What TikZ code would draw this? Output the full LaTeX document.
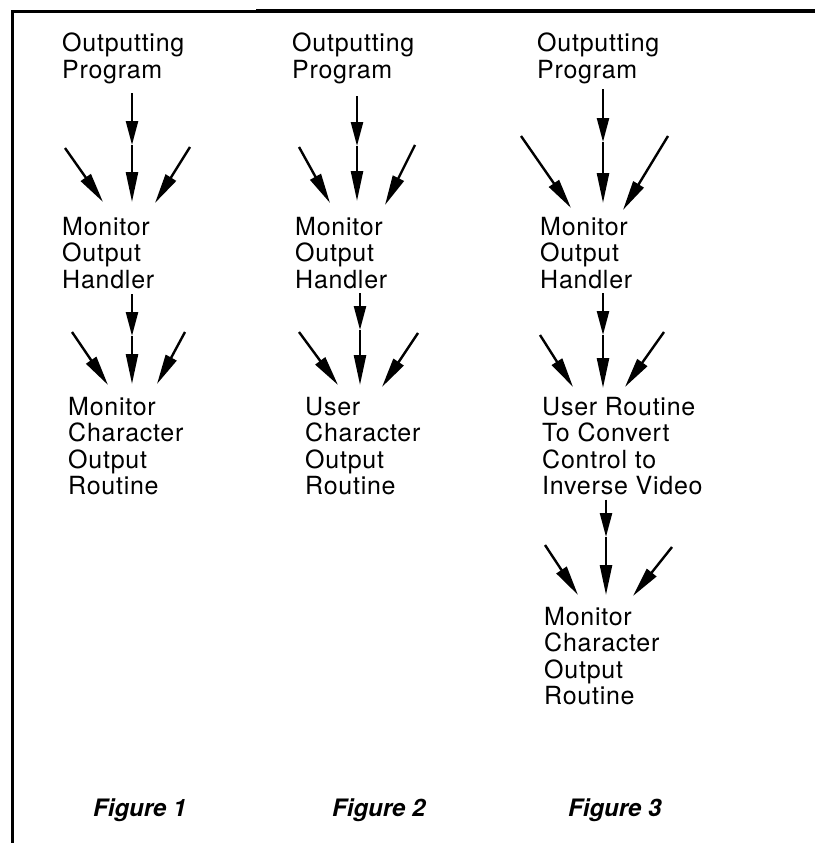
\documentclass[tikz,border=0pt]{standalone}
\usepackage{fontspec}
\setmainfont{TeX Gyre Heros}
\usetikzlibrary{arrows.meta,calc}

\begin{document}
\begin{tikzpicture}[x=1pt, y=-1pt,
	lbl/.style={anchor=north west, inner sep=0pt, align=left, font=\fontsize{25}{26.5}\selectfont\addfontfeature{LetterSpace=3}},
	figcap/.style={anchor=base west, inner sep=0pt, font=\fontsize{24}{26}\selectfont\bfseries\itshape},
	arr/.style={line width=2.4pt, -{Triangle[length=30pt, width=12pt]}},
	midarr/.style={line width=2.4pt, -{Triangle[length=24pt, width=12pt]}}]
	\useasboundingbox (0, 0) rectangle (815, 843);
	% frame
	\draw[line width=3pt] (12, 843) -- (12, 12) -- (256, 12);
	\draw[line width=4pt] (256, 11) -- (815, 11);

	% Figure 1
	\node[lbl] (prog1) at (62, 33) {Outputting\\Program};
	\node[lbl] (mon1) at (62, 217) {Monitor\\Output\\Handler};
	\node[lbl] (rout1) at (68, 397) {Monitor\\Character\\Output\\Routine};
	\coordinate (m1a) at (132, 145);
	\coordinate (m1b) at (132, 336);
	\draw[midarr, shorten <=9pt] (prog1.south -| m1a) -- (m1a);
	\draw[arr, shorten >=15pt] (m1a) -- (mon1.north -| m1a);
	\draw[midarr, shorten <=5pt] (mon1.south -| m1b) -- (m1b);
	\draw[arr, shorten >=13pt] (m1b) -- (rout1.north -| m1b);
	\coordinate (l1a) at (65, 148);  \coordinate (tl1a) at (103, 202);
	\coordinate (r1a) at (190, 147); \coordinate (tr1a) at (155, 203);
	\coordinate (l1b) at (72, 332);  \coordinate (tl1b) at (108, 385);
	\coordinate (r1b) at (185, 332); \coordinate (tr1b) at (157, 384);
	\draw[arr] (l1a) -- (tl1a);
	\draw[arr] (r1a) -- (tr1a);
	\draw[arr] (l1b) -- (tl1b);
	\draw[arr] (r1b) -- (tr1b);

	% Figure 2
	\node[lbl] (prog2) at (292, 33) {Outputting\\Program};
	\node[lbl] (mon2) at (295, 217) {Monitor\\Output\\Handler};
	\node[lbl] (rout2) at (305, 397) {User\\Character\\Output\\Routine};
	\coordinate (m2a) at (357, 146);
	\coordinate (m2b) at (360, 330);
	\draw[midarr, shorten <=12pt] (prog2.south -| m2a) -- (m2a);
	\draw[arr, shorten >=16pt] (m2a) -- (mon2.north -| m2a);
	\draw[midarr, shorten <=4pt] (mon2.south -| m2b) -- (m2b);
	\draw[arr, shorten >=12pt] (m2b) -- (rout2.north -| m2b);
	\coordinate (l2a) at (299, 147); \coordinate (tl2a) at (330, 203);
	\coordinate (r2a) at (415, 145); \coordinate (tr2a) at (385, 205);
	\coordinate (l2b) at (299, 332); \coordinate (tl2b) at (338, 385);
	\coordinate (r2b) at (418, 333); \coordinate (tr2b) at (382, 387);
	\draw[arr] (l2a) -- (tl2a);
	\draw[arr] (r2a) -- (tr2a);
	\draw[arr] (l2b) -- (tl2b);
	\draw[arr] (r2b) -- (tr2b);

	% Figure 3
	\node[lbl] (prog3) at (537, 33) {Outputting\\Program};
	\node[lbl] (mon3) at (540, 217) {Monitor\\Output\\Handler};
	\node[lbl] (user3) at (542, 397) {User Routine\\To Convert\\Control to\\Inverse Video};
	\node[lbl] (rout3) at (544, 607) {Monitor\\Character\\Output\\Routine};
	\coordinate (m3a) at (603, 142);
	\coordinate (m3b) at (603, 335);
	\coordinate (m3c) at (606, 537);
	\draw[midarr, shorten <=5pt] (prog3.south -| m3a) -- (m3a);
	\draw[arr, shorten >=14pt] (m3a) -- (mon3.north -| m3a);
	\draw[midarr, shorten <=4pt] (mon3.south -| m3b) -- (m3b);
	\draw[arr, shorten >=9pt] (m3b) -- (user3.north -| m3b);
	\draw[midarr, shorten <=4pt] (user3.south -| m3c) -- (m3c);
	\draw[arr, shorten >=12pt] (m3c) -- (rout3.north -| m3c);
	\coordinate (l3a) at (521, 136); \coordinate (tl3a) at (571, 208);
	\coordinate (r3a) at (668, 136); \coordinate (tr3a) at (623, 210);
	\coordinate (l3b) at (540, 335); \coordinate (tl3b) at (573, 387);
	\coordinate (r3b) at (664, 332); \coordinate (tr3b) at (625, 387);
	\coordinate (l3c) at (545, 545); \coordinate (tl3c) at (578, 595);
	\coordinate (r3c) at (672, 547); \coordinate (tr3c) at (633, 596);
	\draw[arr] (l3a) -- (tl3a);
	\draw[arr] (r3a) -- (tr3a);
	\draw[arr] (l3b) -- (tl3b);
	\draw[arr] (r3b) -- (tr3b);
	\draw[arr] (l3c) -- (tl3c);
	\draw[arr] (r3c) -- (tr3c);

	% captions
	\node[figcap] (fig1) at (93, 816) {Figure 1};
	\node[figcap] (fig2) at (332, 816) {Figure 2};
	\node[figcap] (fig3) at (568, 816) {Figure 3};
\end{tikzpicture}
\end{document}
